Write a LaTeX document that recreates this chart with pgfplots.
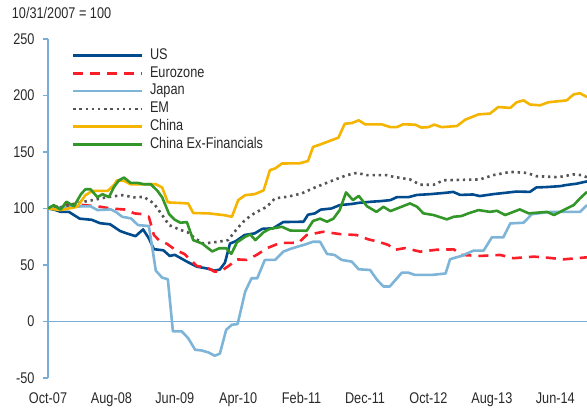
\documentclass[border=0pt]{standalone}
\usepackage{fontspec}
\setmainfont{Liberation Sans}[FakeStretch=0.82]
\usepackage{pgfplots}
\pgfplotsset{compat=1.18}
\definecolor{axisblue}{RGB}{122,173,214}
\definecolor{cUS}{RGB}{0,75,141}
\definecolor{cEZ}{RGB}{250,30,40}
\definecolor{cJP}{RGB}{125,180,215}
\definecolor{cEM}{RGB}{85,85,85}
\definecolor{cCN}{RGB}{245,180,0}
\definecolor{cCX}{RGB}{50,150,40}
\definecolor{labelgray}{RGB}{40,40,40}
\begin{document}
\begin{tikzpicture}
\path[use as bounding box] (0,0) rectangle (587pt,409pt);
\node[anchor=base west, inner sep=0pt, text=labelgray, font=\fontsize{15.5}{18}\selectfont] at (11.7pt,390.7pt) {10/31/2007 = 100};
\begin{axis}[
  at={(48pt,31pt)}, anchor=south west,
  scale only axis, width=539pt, height=339pt,
  xmin=0, xmax=85, ymin=-50, ymax=250,
  axis y line=left, axis x line=bottom,
  axis line style={-},
  x axis line style={draw=none},
  y axis line style={draw=axisblue, line width=1.5pt},
  xtick={0,10,...,80},
  xticklabels={Oct-07,Aug-08,Jun-09,Apr-10,Feb-11,Dec-11,Oct-12,Aug-13,Jun-14},
  ytick={-50,0,50,100,150,200,250},
  xtick style={draw=none},
  ytick style={draw=axisblue, line width=1.5pt},
  tick align=outside, major tick length=5pt,
  tick label style={text=labelgray, font=\fontsize{15.5}{18}\selectfont},
  xticklabel style={yshift=-6pt},
  yticklabel style={xshift=-5pt},
  /pgf/number format/assume math mode=true,
  legend style={at={(0.044,0.973)}, anchor=north west, draw=none, fill=none,
    inner sep=0pt, row sep=3.3pt, column sep=6.5pt,
    font=\fontsize{15.5}{18}\selectfont, text=labelgray,
    nodes={inner sep=0pt, text height=11pt, text depth=3.5pt}},
  legend cell align=left,
  legend image code/.code={\draw[#1] (0pt,0pt) -- (69pt,0pt);},
  every axis plot/.append style={line width=2.6pt, line join=round},
]
\addplot[draw=axisblue, line width=1.3pt, forget plot] coordinates {(0,0) (85,0)};

\addplot[cUS] coordinates {
(0,100) (1,99) (2,97) (3.3,97) (5,91) (6.9,90) (8.2,87) (9.8,86) (11.4,80) (12.4,78) (13.8,75.5) (15,81.5) (15.9,73.6) (16.7,64) (18.2,63) (19.2,58) (20,59) (21.9,53) (23.5,48.5) (25,47) (26.3,45) (27.1,46) (27.9,52) (28.7,69) (29.6,71) (31,76.5) (32.6,78) (33.8,82) (35.5,82.5) (37.1,88) (40.3,88.3) (41,94.5) (42.1,95.7) (43,99) (44.7,100) (46,103) (47.9,104) (49,105) (51,106) (52.4,106.5) (54,107.4) (55,110) (56.8,110) (58.2,112) (60.3,112.7) (62.9,114) (63.9,114.7) (65,112) (67,112.4) (68.1,111) (70.2,112.7) (72.3,114) (73.9,115) (76,114.7) (77,118.6) (78.7,119) (80.8,119.8) (81.5,120.6) (83.4,122) (85,124)};
\addlegendentry{US}

\addplot[cEZ, dash pattern=on 10pt off 7pt] coordinates {
(0,100) (2.8,103.6) (5.7,103) (8.3,101.5) (9.9,100) (12.3,99) (13.6,95.7) (14.9,95) (15.9,92.7) (16.7,76.5) (17.5,72) (18.8,68.6) (20.1,63.3) (21.5,59.8) (23.5,49) (25,48) (26.3,44) (27.4,45) (28.7,50) (29.7,55) (31.3,54.5) (32.9,58.9) (34.5,64.8) (36.6,69.5) (39.5,69.7) (40.8,76.5) (43.4,79.4) (46,77.4) (48.7,76.5) (50.5,72.7) (52.1,70.6) (53.7,67.7) (54.6,63.3) (56.3,65) (58.7,61.8) (61.3,63.5) (64,63.8) (65.2,58.9) (68.1,58) (71.3,58.9) (73.4,56) (76.6,57.4) (78.7,56.5) (81.3,55) (85,56.8)};
\addlegendentry{Eurozone}

\addplot[cJP] coordinates {
(0,100) (2.5,101.5) (6.7,102) (7.8,98.6) (9.9,99.2) (10.7,97) (11.7,92.7) (13.1,91.2) (14.2,85.3) (15.9,84.5) (16.5,63.3) (17,45) (18,38.8) (18.9,37.4) (19.7,-8.8) (21.1,-8.8) (22.1,-14.7) (23.2,-25) (24.2,-25.6) (25.3,-27.4) (26.3,-30.3) (27.1,-28.5) (28.1,-7.3) (29,-2.9) (29.9,-2.3) (31.1,26.5) (32.1,38.3) (33,38.3) (34.2,54.5) (35.8,54.5) (37.1,61.8) (38.2,64.2) (39.7,66.8) (40.3,67.7) (41.8,70.6) (42.9,70.6) (44,59.8) (45.2,58.9) (46.3,54.5) (47.9,53) (49,46.2) (50.8,45.6) (51.9,36.8) (52.9,31) (53.9,31) (55.8,43.2) (56.8,43.2) (57.9,41.2) (60.5,41.2) (62.7,42.5) (63.4,55) (64.2,56.5) (65.2,58) (67.1,62.7) (68.7,62.7) (70,74.5) (71.8,74.5) (72.9,86.8) (75,87.4) (76.3,95) (79.2,97) (83.9,97) (85,103)};
\addlegendentry{Japan}

\addplot[cEM, dash pattern=on 2.4pt off 3.8pt] coordinates {
(0,100) (2,101) (4,104) (5.6,106) (6.7,107) (9.3,110) (11.7,111.8) (13.6,109.8) (15.1,110.3) (16.7,104.5) (18,94.2) (19.1,85.3) (20.9,81) (22,79) (23.2,73.6) (24.5,69) (26.9,70.6) (28.4,72) (29.8,82) (31.1,90) (32.6,96) (34.5,101.5) (35.8,109) (37.9,110.5) (40,113.3) (42.1,118.6) (45,125) (47.1,129.5) (48.7,131.5) (50.3,129.5) (53.4,129.5) (54.5,128) (57.1,125.7) (58.7,121) (60.8,121) (62.4,125) (68.1,125.7) (70.2,129.5) (72.9,132.4) (75.5,131.5) (77,128.6) (80.5,127.7) (82.9,130.2) (84.2,129.5) (85,127.6)};
\addlegendentry{EM}

\addplot[cCN] coordinates {
(0,100) (2,98.6) (4.6,101.5) (5.9,111.8) (7,115.6) (9.4,115.6) (10.4,120.7) (10.9,125) (12,124.5) (13,121.5) (17,121.5) (18,118.6) (18.9,105.4) (22.1,104.5) (22.9,96) (25.3,95.7) (27.9,94) (29,92.7) (30,107.4) (31.1,111.8) (32.6,112.7) (34,116) (35,134) (35.8,135.4) (36.9,139.8) (39.7,140) (41,142) (41.8,154.5) (42.9,156.6) (44,158.9) (45.8,162.7) (46.8,175) (47.9,175.6) (49,178) (50,174.5) (52.6,174.5) (54,172) (55,172) (56,174.5) (57.9,174.2) (58.9,171.6) (60,172) (60.9,174.2) (62.1,172) (64.5,173) (65.8,178.6) (67.9,183.3) (69.7,184) (71,189.8) (72.9,189) (73.9,194) (75,195.7) (76,192) (77.6,191.3) (78.9,194) (81.8,195.7) (82.9,201) (83.9,202) (85,198.6)};
\addlegendentry{China}

\addplot[cCX] coordinates {
(0,100) (0.9,103) (2,99) (2.9,106) (4.1,102) (5.2,112.7) (5.9,117) (6.7,117) (7.8,110) (8.6,112.7) (9.6,110) (10.4,119) (11.2,125) (12,127.4) (13,122.7) (14.1,122.7) (15.1,121.5) (16.2,121.5) (17.2,116) (18,110) (19.1,95) (20,90) (20.9,87.4) (21.9,88) (22.9,72) (24.3,69) (25.9,62) (27,64.8) (28.1,64.8) (28.9,59.8) (29.8,70) (31.1,75) (31.9,77) (32.7,72) (34,79) (35,82) (36.9,83.8) (38.2,80.5) (40.8,80.3) (41.8,89) (42.9,91) (44,88.3) (45,91) (46,98.6) (47,114.2) (48.1,107.4) (49,111.2) (50.3,102) (51.8,97) (52.9,101.5) (54,97.7) (55.5,101) (57.1,104.5) (58.2,101.5) (59.2,95.7) (60.8,94.2) (62.9,90.4) (64,92.7) (65.2,93.3) (66.3,95.7) (67.9,98.6) (69.7,97) (70.8,98) (72.1,94.2) (74.4,99.2) (75.8,95.7) (78.7,97) (79.8,94.2) (81.8,100) (82.9,103) (83.9,109) (85,114.7)};
\addlegendentry{China Ex-Financials}
\end{axis}
\end{tikzpicture}
\end{document}
